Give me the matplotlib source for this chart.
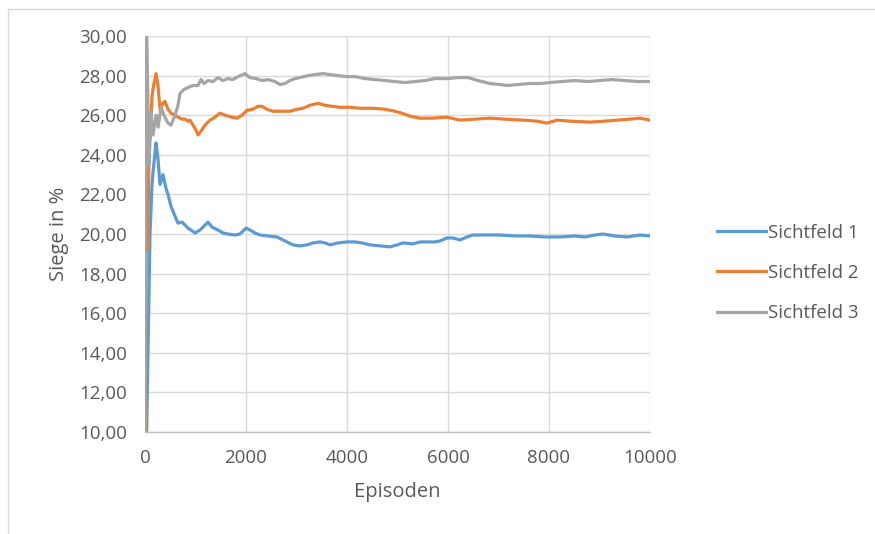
import matplotlib
matplotlib.use("Agg")
import matplotlib.pyplot as plt
from matplotlib.lines import Line2D

# Running win rate per episode for three field-of-view settings
ep_1 = [0, 59, 99, 139, 158, 198, 218, 257, 297, 356, 416, 455, 515, 594, 653, 733, 792,
        851, 911, 990, 1089, 1188, 1247, 1327, 1445, 1544, 1643, 1782, 1881, 2000, 2079,
        2178, 2277, 2435, 2614, 2772, 2930, 3069, 3208, 3326, 3465, 3564, 3663, 3821, 4000,
        4158, 4297, 4455, 4653, 4851, 4990, 5108, 5306, 5445, 5584, 5742, 5841, 5980, 6098,
        6237, 6376, 6494, 6732, 7029, 7326, 7623, 7920, 8217, 8514, 8712, 8910, 9069, 9306,
        9544, 9801, 10000]
sicht_1 = [5.0, 14.0, 20.0, 22.5, 23.1, 24.1, 24.6, 23.8, 22.5, 23.0, 22.3, 22.0, 21.4, 20.9,
           20.55, 20.6, 20.45, 20.3, 20.2, 20.05, 20.2, 20.45, 20.6, 20.35, 20.2, 20.05, 20.0,
           19.95, 20.0, 20.3, 20.2, 20.05, 19.95, 19.9, 19.85, 19.65, 19.45, 19.4, 19.45, 19.55,
           19.6, 19.55, 19.45, 19.55, 19.6, 19.6, 19.55, 19.45, 19.4, 19.35, 19.45, 19.55, 19.5,
           19.6, 19.6, 19.6, 19.65, 19.8, 19.8, 19.7, 19.85, 19.95, 19.95, 19.95, 19.9, 19.9,
           19.85, 19.85, 19.9, 19.85, 19.95, 20.0, 19.9, 19.85, 19.95, 19.9]

ep_2 = [0, 30, 55, 80, 110, 140, 170, 218, 257, 297, 356, 396, 455, 515, 594, 653, 733, 792,
        851, 891, 950, 1010, 1049, 1109, 1188, 1287, 1386, 1485, 1584, 1723, 1822, 1921, 2020,
        2138, 2237, 2317, 2416, 2534, 2673, 2871, 3010, 3128, 3267, 3425, 3564, 3703, 3861,
        4059, 4257, 4514, 4752, 4950, 5089, 5247, 5445, 5683, 5980, 6237, 6534, 6831, 7128,
        7484, 7762, 7960, 8158, 8415, 8811, 9108, 9346, 9603, 9801, 10000]
sicht_2 = [5.0, 22.0, 19.2, 24.5, 25.0, 27.0, 27.5, 28.1, 27.5, 26.3, 26.6, 26.7, 26.3, 26.1,
           26.0, 25.9, 25.8, 25.8, 25.7, 25.75, 25.5, 25.25, 25.0, 25.2, 25.5, 25.75, 25.9, 26.1,
           26.0, 25.9, 25.85, 26.0, 26.25, 26.3, 26.45, 26.45, 26.3, 26.2, 26.2, 26.2, 26.3,
           26.35, 26.5, 26.6, 26.5, 26.45, 26.4, 26.4, 26.35, 26.35, 26.3, 26.2, 26.1, 25.95,
           25.85, 25.85, 25.9, 25.75, 25.8, 25.85, 25.8, 25.75, 25.7, 25.6, 25.75, 25.7, 25.65,
           25.7, 25.75, 25.8, 25.85, 25.75]

ep_3 = [0, 15, 80, 120, 160, 220, 260, 317, 376, 455, 515, 594, 653, 693, 772, 851, 950, 1049,
        1109, 1168, 1247, 1346, 1445, 1544, 1643, 1742, 1841, 1980, 2079, 2198, 2317, 2435,
        2574, 2673, 2772, 2871, 2970, 3069, 3227, 3366, 3524, 3663, 3821, 4000, 4158, 4356,
        4554, 4752, 4950, 5148, 5346, 5544, 5742, 6000, 6197, 6395, 6593, 6831, 7029, 7168,
        7385, 7623, 7841, 8019, 8257, 8514, 8771, 9009, 9247, 9504, 9761, 10000]
sicht_3 = [5.0, 33.0, 23.5, 26.2, 25.0, 26.0, 25.4, 26.4, 26.0, 25.6, 25.5, 26.0, 26.5, 27.1,
           27.3, 27.4, 27.5, 27.5, 27.8, 27.6, 27.75, 27.7, 27.9, 27.75, 27.85, 27.8, 27.95,
           28.1, 27.9, 27.85, 27.75, 27.8, 27.7, 27.55, 27.6, 27.75, 27.85, 27.9, 28.0, 28.05,
           28.1, 28.05, 28.0, 27.95, 27.95, 27.85, 27.8, 27.75, 27.7, 27.65, 27.7, 27.75, 27.85,
           27.85, 27.9, 27.9, 27.75, 27.6, 27.55, 27.5, 27.55, 27.6, 27.6, 27.65, 27.7, 27.75,
           27.7, 27.75, 27.8, 27.75, 27.7, 27.7]

series = [("Sichtfeld 1", ep_1, sicht_1, "#5B9BD5"),
          ("Sichtfeld 2", ep_2, sicht_2, "#ED7D31"),
          ("Sichtfeld 3", ep_3, sicht_3, "#A5A5A5")]

x_ticks = [0, 2000, 4000, 6000, 8000, 10000]
y_ticks = [10, 12, 14, 16, 18, 20, 22, 24, 26, 28, 30]

plt.rcParams['font.family'] = ['Open Sans', 'DejaVu Sans']
text_color = "#595959"

fig = plt.figure(figsize=(8.75, 5.34), dpi=100)
fig.patch.set_facecolor("white")

# outer chart frame
fig.add_artist(Line2D([8 / 875, 1.0], [1 - 9 / 534, 1 - 9 / 534], color="#D9D9D9", lw=1.0))
fig.add_artist(Line2D([8 / 875, 8 / 875], [0.0, 1 - 9 / 534], color="#D9D9D9", lw=1.0))

ax = fig.add_axes([145 / 875, 1 - 432 / 534, 505 / 875, 396 / 534])

handles = []
for name, xs, ys, col in series:
    h, = ax.plot(xs, ys, color=col, lw=2.3, label=name, solid_joinstyle="round")
    handles.append(h)

ax.set_xlim(0, 10000)
ax.set_ylim(10, 30)
ax.set_xticks(x_ticks)
ax.set_yticks(y_ticks)
ax.set_xticklabels([str(v) for v in x_ticks])
ax.set_yticklabels([f"{v:.2f}".replace(".", ",") for v in y_ticks])
ax.grid(True, color="#D9D9D9", lw=1.0)
ax.set_axisbelow(True)
for s in ["top", "right", "left"]:
    ax.spines[s].set_visible(False)
ax.spines["bottom"].set_color("#BFBFBF")
ax.spines["bottom"].set_linewidth(1.0)
ax.tick_params(axis="both", length=0, colors=text_color, labelsize=13.5)
ax.tick_params(axis="y", pad=13)
ax.tick_params(axis="x", pad=12)

ax.set_xlabel("Episoden", color=text_color, fontsize=14.5, labelpad=11)
ax.set_ylabel("Siege in %", color=text_color, fontsize=14.5, labelpad=7)

leg = fig.legend(handles=handles, loc="center left", bbox_to_anchor=(708 / 875, 1 - 273 / 534),
                 frameon=False, fontsize=13.5, labelcolor=text_color, handlelength=2.6,
                 handletextpad=0.1, labelspacing=1.2, borderpad=0.0)

fig.savefig("out.png", dpi=100, facecolor="white")
